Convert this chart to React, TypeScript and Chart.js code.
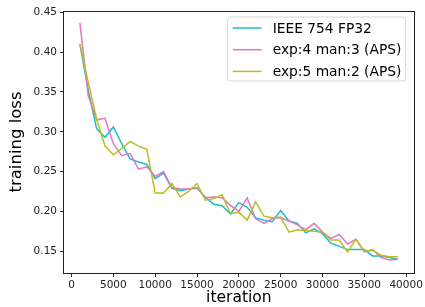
import React, { useEffect, useRef } from "react";
import { Chart, registerables } from "chart.js";

Chart.register(...registerables);

const iterations = [
  1000, 2000, 3000, 4000, 5000, 6000, 7000, 8000, 9000, 10000,
  11000, 12000, 13000, 14000, 15000, 16000, 17000, 18000, 19000, 20000,
  21000, 22000, 23000, 24000, 25000, 26000, 27000, 28000, 29000, 30000,
  31000, 32000, 33000, 34000, 35000, 36000, 37000, 38000, 39000,
];

const fp32 = [
  0.41, 0.352, 0.304, 0.293, 0.306, 0.285, 0.266, 0.262, 0.259, 0.241,
  0.248, 0.229, 0.226, 0.228, 0.229, 0.218, 0.209, 0.207, 0.197, 0.211,
  0.205, 0.192, 0.189, 0.187, 0.201, 0.188, 0.185, 0.173, 0.178, 0.172,
  0.16, 0.156, 0.152, 0.152, 0.152, 0.144, 0.144, 0.142, 0.14,
];

const e4m3 = [
  0.437, 0.345, 0.315, 0.317, 0.285, 0.27, 0.273, 0.253, 0.256, 0.244,
  0.25, 0.23, 0.228, 0.228, 0.23, 0.217, 0.218, 0.217, 0.2075, 0.2,
  0.217, 0.191, 0.185, 0.191, 0.192, 0.188, 0.183, 0.177, 0.185, 0.174,
  0.166, 0.171, 0.159, 0.165, 0.149, 0.152, 0.142, 0.139, 0.14,
];

const e5m2 = [
  0.41, 0.362, 0.316, 0.282, 0.271, 0.279, 0.288, 0.282, 0.278, 0.223,
  0.223, 0.235, 0.218, 0.225, 0.235, 0.214, 0.216, 0.221, 0.197, 0.199,
  0.189, 0.212, 0.194, 0.192, 0.193, 0.174, 0.177, 0.176, 0.175, 0.174,
  0.164, 0.164, 0.149, 0.165, 0.15, 0.151, 0.145, 0.143, 0.143,
];

const seriesLabels = ["IEEE 754 FP32", "exp:4 man:3 (APS)", "exp:5 man:2 (APS)"];
const seriesColors = ["#17becf", "#e377c2", "#bcbd22"];

const xTicks = [0, 5000, 10000, 15000, 20000, 25000, 30000, 35000, 40000];
const yTicks = [0.15, 0.2, 0.25, 0.3, 0.35, 0.4, 0.45];

const FONT = "'DejaVu Sans', sans-serif";

const framePlugin = {
  id: "frame",
  afterDatasetsDraw(chart: any) {
    const { ctx, chartArea } = chart;
    ctx.save();
    ctx.strokeStyle = "#222";
    ctx.lineWidth = 1;
    ctx.strokeRect(
      Math.round(chartArea.left) - 0.5,
      Math.round(chartArea.top) + 0.5,
      Math.round(chartArea.right - chartArea.left) + 1,
      Math.round(chartArea.bottom - chartArea.top)
    );
    ctx.restore();
  },
};

const legendPlugin = {
  id: "boxLegend",
  afterDraw(chart: any) {
    const { ctx, chartArea } = chart;
    const w = 178;
    const h = 64;
    const x = chartArea.right - 8 - w;
    const y = chartArea.top + 6;
    const r = 3;
    ctx.save();
    ctx.beginPath();
    ctx.moveTo(x + r, y);
    ctx.lineTo(x + w - r, y);
    ctx.quadraticCurveTo(x + w, y, x + w, y + r);
    ctx.lineTo(x + w, y + h - r);
    ctx.quadraticCurveTo(x + w, y + h, x + w - r, y + h);
    ctx.lineTo(x + r, y + h);
    ctx.quadraticCurveTo(x, y + h, x, y + h - r);
    ctx.lineTo(x, y + r);
    ctx.quadraticCurveTo(x, y, x + r, y);
    ctx.closePath();
    ctx.fillStyle = "rgba(255,255,255,0.8)";
    ctx.fill();
    ctx.strokeStyle = "#d6d6d6";
    ctx.lineWidth = 1;
    ctx.stroke();
    ctx.font = `13.8px ${FONT}`;
    ctx.textBaseline = "middle";
    ctx.fillStyle = "#000";
    for (let i = 0; i < seriesLabels.length; i++) {
      const cy = y + 11 + i * 21.7;
      ctx.beginPath();
      ctx.strokeStyle = seriesColors[i];
      ctx.lineWidth = 1.5;
      ctx.moveTo(x + 5, cy);
      ctx.lineTo(x + 34, cy);
      ctx.stroke();
      ctx.fillText(seriesLabels[i], x + 45, cy + 1);
    }
    ctx.restore();
  },
};

export default function App() {
  const ref = useRef<HTMLCanvasElement | null>(null);

  useEffect(() => {
    if (!ref.current) return;
    const mk = (data: number[]) => iterations.map((x, i) => ({ x, y: data[i] }));
    const chart = new Chart(ref.current, {
      type: "line",
      data: {
        datasets: [fp32, e4m3, e5m2].map((d, i) => ({
          label: seriesLabels[i],
          data: mk(d),
          borderColor: seriesColors[i],
          backgroundColor: seriesColors[i],
          borderWidth: 1.5,
          pointRadius: 0,
          tension: 0,
          fill: false,
          order: 2 - i,
        })),
      },
      options: {
        responsive: false,
        animation: false,
        devicePixelRatio: 1,
        layout: { padding: { left: 0, right: 8, top: 11, bottom: 0 } },
        plugins: {
          legend: { display: false },
          tooltip: { enabled: false },
        },
        scales: {
          x: {
            type: "linear",
            min: -900,
            max: 40900,
            afterBuildTicks: (s: any) => {
              s.ticks = xTicks.map((v) => ({ value: v }));
            },
            afterFit: (s: any) => {
              s.height = 34;
            },
            grid: {
              display: true,
              drawOnChartArea: false,
              drawTicks: true,
              tickLength: 4,
              color: "#222",
            },
            border: { display: false },
            ticks: {
              autoSkip: false,
              maxRotation: 0,
              padding: 2,
              color: "#222",
              font: { family: FONT, size: 10.5 },
              callback: (v: any) => String(v),
            },
            title: {
              display: true,
              text: "iteration",
              color: "#000",
              font: { family: FONT, size: 15.5 },
              padding: { top: 0, bottom: 0 },
            },
          },
          y: {
            type: "linear",
            min: 0.1226,
            max: 0.4517,
            afterBuildTicks: (s: any) => {
              s.ticks = yTicks.map((v) => ({ value: v }));
            },
            afterFit: (s: any) => {
              s.width = 64;
            },
            grid: {
              display: true,
              drawOnChartArea: false,
              drawTicks: true,
              tickLength: 4,
              color: "#222",
            },
            border: { display: false },
            ticks: {
              autoSkip: false,
              padding: 3,
              color: "#222",
              font: { family: FONT, size: 10.5 },
              callback: (v: any) => Number(v).toFixed(2),
            },
            title: {
              display: true,
              text: "training loss",
              color: "#000",
              font: { family: FONT, size: 16.5 },
              padding: { top: 7, bottom: 0 },
            },
          },
        },
      },
      plugins: [framePlugin, legendPlugin],
    });
    return () => chart.destroy();
  }, []);

  return (
    <div style={{ position: "absolute", left: 0, top: 0, width: 425, height: 307 }}>
      <canvas ref={ref} width={425} height={307} style={{ width: 425, height: 307 }} />
    </div>
  );
}
